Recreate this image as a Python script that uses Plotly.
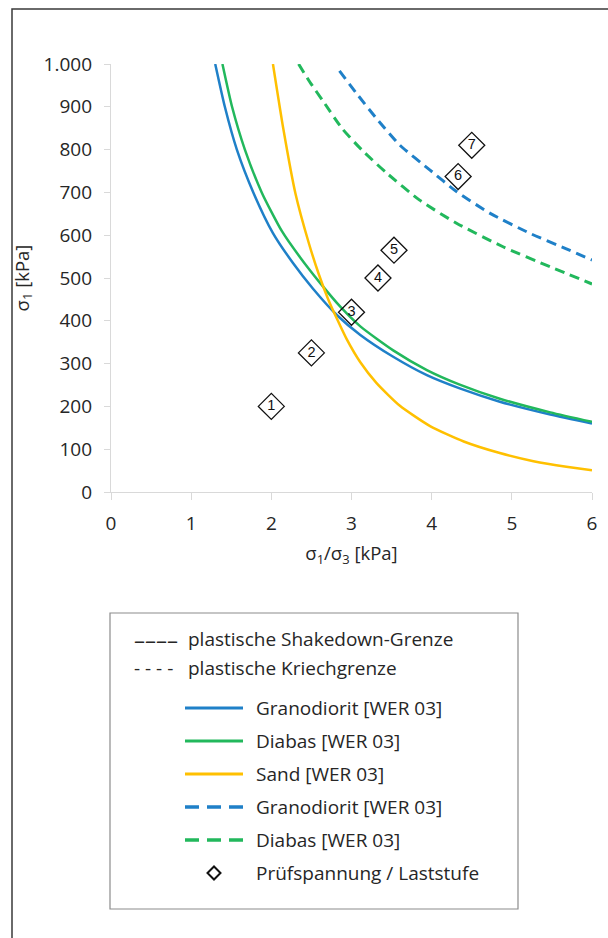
import plotly.graph_objects as go

# --- Plastische Shakedown-Grenze (durchgezogene Linien) ---
gran_sd_x = [1.30, 1.42, 1.57, 1.775, 2.02, 2.27, 2.52, 2.82, 3.11, 3.52, 3.94, 4.35, 4.85, 5.48, 6.00]
gran_sd_y = [1000, 900, 800, 700, 605, 535, 475, 413, 367, 316, 273, 242, 211, 181, 160]

diab_sd_x = [1.39, 1.51, 1.67, 1.88, 2.13, 2.36, 2.61, 2.86, 3.11, 3.52, 3.94, 4.35, 4.85, 5.48, 6.00]
diab_sd_y = [1000, 900, 800, 700, 610, 548, 488, 433, 387, 331, 285, 251, 218, 186, 164]

sand_sd_x = [2.02, 2.15, 2.30, 2.47, 2.59, 2.71, 2.82, 2.94, 3.11, 3.31, 3.60, 3.98, 4.40, 4.85, 5.27, 5.68, 6.00]
sand_sd_y = [1000, 848, 698, 580, 510, 450, 404, 357, 303, 255, 202, 154, 118, 91, 72, 59, 51]

# --- Plastische Kriechgrenze (gestrichelte Linien) ---
gran_kr_x = [2.85, 3.06, 3.31, 3.60, 3.98, 4.31, 4.73, 5.23, 5.68, 6.00]
gran_kr_y = [984, 932, 873, 811, 752, 702, 651, 604, 568, 542]

diab_kr_x = [2.34, 2.48, 2.65, 2.88, 3.13, 3.44, 3.85, 4.31, 4.89, 5.48, 6.00]
diab_kr_y = [1000, 958, 912, 850, 799, 745, 682, 628, 573, 526, 486]

# --- Prüfspannungen / Laststufen ---
stufe_x = [2.00, 2.50, 3.00, 3.33, 3.53, 4.33, 4.50]
stufe_y = [200, 325, 420, 500, 565, 737, 810]
stufe_nr = ["1", "2", "3", "4", "5", "6", "7"]

BLUE = "#1f80c8"
GREEN = "#22b85c"
YELLOW = "#ffc000"
TEXT = "#262626"
AXIS = "#d9d9d9"
FONT = "Open Sans"

W, H = 608, 938
L, R, T, B = 111, 592, 64, 492  # plot area in px


def xp(x):
    return (x - L) / (R - L)


def yp(y):
    return (B - y) / (B - T)


fig = go.Figure()

curves = [
    (gran_sd_x, gran_sd_y, BLUE, "solid", 2.5, "Granodiorit [WER 03]"),
    (diab_sd_x, diab_sd_y, GREEN, "solid", 2.5, "Diabas [WER 03]"),
    (sand_sd_x, sand_sd_y, YELLOW, "solid", 2.5, "Sand [WER 03]"),
    (gran_kr_x, gran_kr_y, BLUE, "10px,6px", 3, "Granodiorit [WER 03]"),
    (diab_kr_x, diab_kr_y, GREEN, "10px,6px", 3, "Diabas [WER 03]"),
]
for cx, cy, col, dash, w, name in curves:
    fig.add_trace(go.Scatter(
        x=cx, y=cy, mode="lines", name=name, showlegend=False,
        line=dict(color=col, width=w, dash=dash, shape="spline", smoothing=0.6),
        hoverinfo="skip",
    ))

fig.add_trace(go.Scatter(
    x=stufe_x, y=stufe_y, mode="markers+text", text=stufe_nr,
    textposition="middle center", textfont=dict(family="Liberation Sans", size=14.5, color="#111"),
    marker=dict(symbol="diamond-open", size=20, color="#111", line=dict(color="#111", width=1.3)),
    showlegend=False, name="Prüfspannung / Laststufe",
))

shapes = []
annotations = []

# outer chart frame
shapes.append(dict(type="rect", xref="paper", yref="paper",
                   x0=xp(12), x1=xp(720), y0=yp(9), y1=yp(1000),
                   line=dict(color="#3a3a3a", width=1.5), fillcolor="rgba(0,0,0,0)", layer="below"))

# legend box
shapes.append(dict(type="rect", xref="paper", yref="paper",
                   x0=xp(110), x1=xp(518), y0=yp(613), y1=yp(909),
                   line=dict(color="#8c8c8c", width=1.2), fillcolor="white"))

LEG = 19

# header rows of the legend
annotations.append(dict(xref="paper", yref="paper", x=xp(132), y=yp(639), xanchor="left", yanchor="middle",
                        text="––––", showarrow=False, font=dict(family=FONT, size=22, color=TEXT)))
annotations.append(dict(xref="paper", yref="paper", x=xp(186), y=yp(639), xanchor="left", yanchor="middle",
                        text="plastische Shakedown-Grenze", showarrow=False, font=dict(family=FONT, size=LEG, color=TEXT)))
annotations.append(dict(xref="paper", yref="paper", x=xp(132), y=yp(668), xanchor="left", yanchor="middle",
                        text="- - - -", showarrow=False, font=dict(family=FONT, size=LEG, color=TEXT)))
annotations.append(dict(xref="paper", yref="paper", x=xp(186), y=yp(668), xanchor="left", yanchor="middle",
                        text="plastische Kriechgrenze", showarrow=False, font=dict(family=FONT, size=LEG, color=TEXT)))

legend_rows = [
    (708, BLUE, "solid", 3, "Granodiorit [WER 03]"),
    (741, GREEN, "solid", 3, "Diabas [WER 03]"),
    (774, YELLOW, "solid", 3, "Sand [WER 03]"),
    (807, BLUE, "14px,8px", 3.5, "Granodiorit [WER 03]"),
    (840, GREEN, "14px,8px", 3.5, "Diabas [WER 03]"),
]
for ly, col, dash, w, label in legend_rows:
    shapes.append(dict(type="line", xref="paper", yref="paper",
                       x0=xp(185), x1=xp(243), y0=yp(ly), y1=yp(ly),
                       line=dict(color=col, width=w, dash=dash)))
    annotations.append(dict(xref="paper", yref="paper", x=xp(254), y=yp(ly), xanchor="left", yanchor="middle",
                            text=label, showarrow=False, font=dict(family=FONT, size=LEG, color=TEXT)))

# diamond symbol row
cx, cy, r = 214, 873, 6.5
diamond = (f"M {xp(cx - r)},{yp(cy)} L {xp(cx)},{yp(cy - r)} "
           f"L {xp(cx + r)},{yp(cy)} L {xp(cx)},{yp(cy + r)} Z")
shapes.append(dict(type="path", xref="paper", yref="paper", path=diamond,
                   line=dict(color="#111", width=2)))
annotations.append(dict(xref="paper", yref="paper", x=xp(254), y=yp(873), xanchor="left", yanchor="middle",
                        text="Prüfspannung / Laststufe", showarrow=False, font=dict(family=FONT, size=LEG, color=TEXT)))

fig.update_layout(
    width=W, height=H,
    margin=dict(l=L, r=W - R, t=T, b=H - B),
    paper_bgcolor="white", plot_bgcolor="white",
    separators=",.",
    font=dict(family=FONT, size=18, color=TEXT),
    shapes=shapes, annotations=annotations,
    showlegend=False,
)

fig.update_xaxes(
    range=[0, 6], dtick=1, tick0=0, showgrid=False, zeroline=False,
    showline=True, linecolor=AXIS, linewidth=1.3,
    ticks="outside", ticklen=7, tickcolor=AXIS, tickwidth=1.3,
    tickfont=dict(family=FONT, size=19, color=TEXT), ticklabelstandoff=7,
    title=dict(text="σ<sub>1</sub>/σ<sub>3</sub> [kPa]", font=dict(family=FONT, size=18.5, color=TEXT), standoff=12),
)
fig.update_yaxes(
    range=[0, 1000], dtick=100, tick0=0, showgrid=False, zeroline=False,
    showline=True, linecolor=AXIS, linewidth=1.3,
    ticks="outside", ticklen=6, tickcolor=AXIS, tickwidth=1.3,
    separatethousands=True,
    tickfont=dict(family=FONT, size=19, color=TEXT), ticklabelstandoff=8,
    title=dict(text="σ<sub>1</sub> [kPa]", font=dict(family=FONT, size=18.5, color=TEXT), standoff=9),
)

fig.write_html("out.html")
